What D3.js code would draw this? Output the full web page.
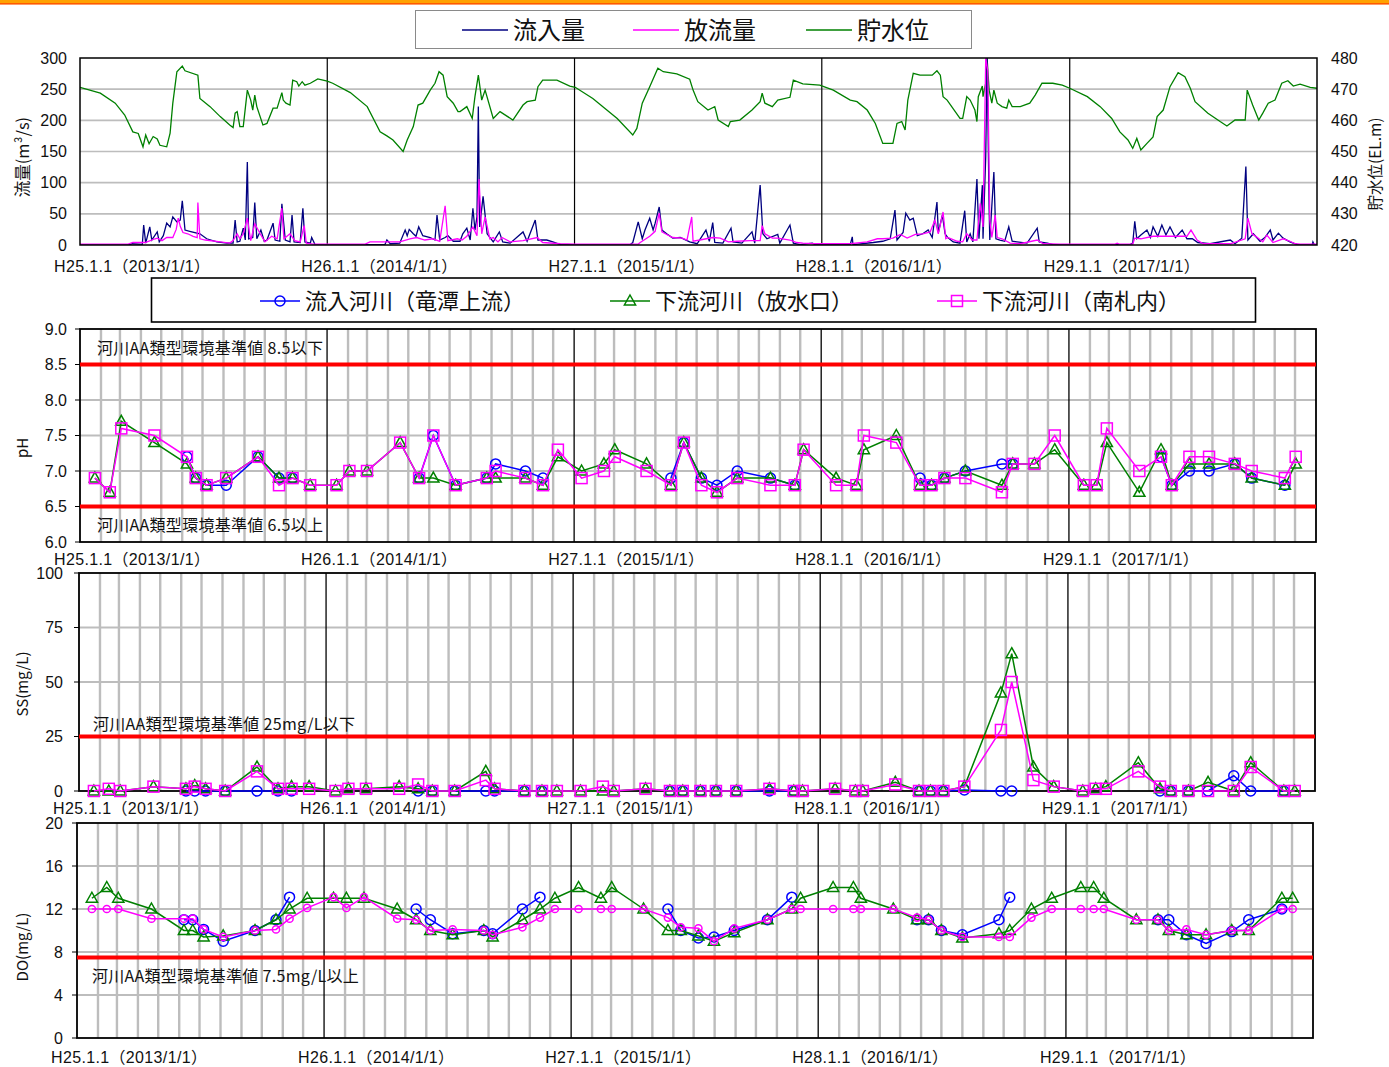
<!DOCTYPE html>
<html>
<head>
<meta charset="utf-8">
<script src="https://cdn.jsdelivr.net/npm/d3@7"></script>
<style>
  body { margin: 0; background: #fff; }
  svg { display: block; font-family: "Noto Sans CJK JP", "Noto Sans", sans-serif; }
  .num { font-family: "Liberation Sans", Arial, "Noto Sans CJK JP", sans-serif; }
</style>
</head>
<body>
<svg id="chart" width="1389" height="1067"></svg>
<script>
// ---------------- data ----------------
// Daily dam record: [days from 2013-01-01, value]
const inflow = [[0,0.5],[74,0.5],[77,2],[92,1],[94,32],[97,3],[103,29],[106,8],[114,21],[117,5],[123,15],[128,35],[133,29],[137,45],[143,37],[148,40],[151,71],[155,24],[162,22],[177,18],[187,10],[202,5],[217,3],[226,3],[229,40],[232,5],[236,6],[241,27],[244,8],[247,133],[249,10],[255,12],[258,68],[261,10],[267,24],[272,6],[276,8],[285,35],[288,8],[295,6],[298,66],[303,8],[310,5],[313,48],[316,5],[325,4],[329,59],[332,5],[340,3],[342,12],[347,0.5],[450,0.5],[453,8],[458,2],[472,3],[480,24],[483,15],[486,25],[492,18],[496,14],[500,29],[506,15],[517,12],[524,8],[527,48],[531,8],[539,12],[543,15],[551,6],[561,6],[565,18],[571,27],[576,8],[580,59],[583,24],[586,45],[588,222],[590,29],[595,78],[601,18],[610,5],[619,21],[624,5],[635,3],[654,21],[660,6],[672,40],[676,8],[689,8],[698,5],[709,0.5],[812,0.5],[816,4],[824,37],[830,10],[834,24],[841,43],[846,24],[849,35],[855,61],[859,24],[866,18],[875,11],[886,12],[900,5],[911,2],[924,24],[929,6],[934,36],[937,4],[949,3],[961,27],[964,5],[977,3],[992,21],[996,3],[1004,96],[1008,18],[1014,10],[1030,17],[1033,3],[1048,32],[1053,3],[1063,0.5],[1081,3],[1085,0.5],[1137,0.5],[1140,13],[1141,0.5],[1171,4],[1185,6],[1196,10],[1203,56],[1206,8],[1215,20],[1219,51],[1225,40],[1230,43],[1236,15],[1244,18],[1252,24],[1258,12],[1265,69],[1267,20],[1273,48],[1277,18],[1281,12],[1289,5],[1299,3],[1306,55],[1309,5],[1314,18],[1318,5],[1324,106],[1327,10],[1332,96],[1333,10],[1337,142],[1339,300],[1342,60],[1343,8],[1349,117],[1352,10],[1358,8],[1365,6],[1371,29],[1376,6],[1383,5],[1398,3],[1413,27],[1416,5],[1428,3],[1436,0.5],[1550,0.5],[1554,3],[1557,38],[1560,10],[1566,16],[1575,24],[1580,12],[1584,29],[1591,14],[1597,32],[1603,16],[1609,29],[1617,12],[1627,24],[1634,10],[1642,10],[1650,4],[1668,2],[1698,8],[1705,2],[1715,11],[1721,126],[1724,8],[1732,18],[1742,6],[1749,12],[1757,24],[1761,8],[1769,19],[1776,11],[1786,5],[1797,0.5],[1819,0.5],[1820,5],[1822,0.5],[1826,0.5]];

const outflow = [[0,1.5],[71,1.5],[78,4],[96,4],[99,5],[111,10],[114,11],[121,7],[128,12],[137,12],[142,25],[145,43],[148,30],[152,20],[159,18],[167,14],[173,12],[174,68],[177,10],[185,8],[207,5],[221,3],[226,7],[232,18],[236,10],[241,18],[247,43],[252,7],[258,34],[266,18],[273,5],[283,14],[291,10],[298,59],[301,10],[310,18],[317,7],[325,5],[331,31],[334,3],[344,1.5],[421,1.5],[428,5],[465,5],[472,5],[487,10],[497,12],[509,8],[521,10],[531,6],[539,63],[543,7],[557,10],[564,8],[571,14],[580,29],[586,15],[589,106],[593,18],[598,45],[605,10],[610,12],[617,5],[623,12],[635,5],[654,7],[675,12],[683,4],[709,2],[731,1.5],[824,1.5],[827,4],[841,14],[849,22],[855,51],[859,21],[864,18],[875,12],[889,11],[896,8],[903,45],[905,6],[915,8],[934,12],[945,11],[957,5],[970,6],[989,7],[1004,7],[1007,31],[1011,18],[1022,11],[1030,11],[1048,8],[1058,4],[1067,3],[1085,2],[1137,2],[1162,5],[1177,10],[1185,10],[1200,11],[1211,17],[1221,11],[1233,17],[1244,18],[1255,21],[1262,40],[1267,18],[1274,53],[1278,10],[1281,12],[1295,6],[1303,5],[1309,18],[1317,8],[1324,8],[1329,67],[1333,29],[1337,300],[1340,280],[1343,40],[1346,12],[1351,48],[1354,12],[1361,10],[1373,3],[1388,2],[1413,8],[1422,2],[1447,1.5],[1528,1.5],[1531,3],[1534,1.5],[1554,1.5],[1557,11],[1566,10],[1584,14],[1634,14],[1640,24],[1649,8],[1658,2],[1698,2],[1720,10],[1724,43],[1730,18],[1738,12],[1746,5],[1752,16],[1761,4],[1776,10],[1786,6],[1794,2],[1801,1.5],[1826,1.5]];

const waterLevel = [[0,470.6],[30,468.7],[52,465.5],[66,461.7],[78,456.3],[86,455.8],[93,451.5],[97,455.3],[102,452.5],[108,454.8],[114,454],[118,452],[128,451.5],[133,455.9],[137,465.5],[143,475.6],[151,477.4],[155,475.9],[174,474.5],[177,467],[192,464.4],[207,461.2],[221,458.5],[226,457.7],[229,462.3],[232,462.8],[236,458],[241,458],[247,469.7],[252,466.5],[255,463.3],[258,468.1],[261,464.4],[270,458.5],[276,459],[285,463.9],[291,463.9],[298,468.9],[300,466.5],[304,465.5],[310,464.9],[314,472.9],[320,472.4],[323,471],[328,472.4],[332,471.3],[340,471.9],[351,473.3],[365,472.6],[373,471.9],[399,468.9],[424,464.4],[443,456.3],[453,455],[462,453.7],[477,450],[483,453.7],[492,458],[499,464.9],[506,465.5],[517,469.7],[524,471.9],[530,475.6],[536,474.5],[542,467.6],[551,465.5],[558,462.8],[561,462.8],[571,464.4],[579,460.6],[583,467.6],[588,474.5],[593,466.5],[598,469.7],[610,460.6],[620,462.8],[639,460.1],[654,464.9],[660,466],[672,466.5],[676,470.8],[683,472.9],[704,472.9],[723,471],[731,470.6],[757,467],[793,460.6],[816,455.3],[822,457.4],[830,465.5],[841,470.8],[853,476.7],[861,475.6],[881,474.9],[900,473.2],[905,469.7],[912,466],[927,463.3],[937,464.4],[942,460.1],[957,458],[960,459.6],[974,460.1],[992,463.3],[1004,466],[1007,468.7],[1011,465.5],[1022,464.4],[1030,466.5],[1048,467.4],[1053,472.9],[1067,471.7],[1092,471.3],[1112,469.7],[1137,466.5],[1147,466],[1162,463.3],[1174,459],[1185,452.6],[1200,452.6],[1206,459],[1213,459.6],[1218,456.9],[1222,466.5],[1230,475.1],[1240,474.5],[1258,474.5],[1265,475.9],[1270,474.5],[1274,467.6],[1280,466.5],[1299,460.6],[1303,460.6],[1309,467.6],[1314,466.5],[1321,463.3],[1324,459.6],[1326,467.6],[1332,471],[1333,467.6],[1337,471.9],[1339,480],[1342,469.7],[1346,465.5],[1349,469.7],[1354,465.5],[1361,464.4],[1368,463.9],[1371,466.5],[1376,464.4],[1388,464.4],[1402,465.5],[1410,468.1],[1420,471.9],[1436,471.9],[1450,471.3],[1461,470.3],[1487,467.6],[1506,464.4],[1523,460.6],[1535,456.3],[1547,453.7],[1554,451],[1560,454.2],[1566,450.5],[1575,452.6],[1584,454.7],[1590,461.2],[1599,463.3],[1609,470.8],[1621,475.3],[1631,474],[1639,470.3],[1646,466],[1665,462.3],[1683,459.6],[1693,458.2],[1705,460.1],[1720,460.1],[1723,469.7],[1731,464.9],[1740,460.1],[1746,462.3],[1754,465.5],[1764,466.5],[1774,471.9],[1783,472.7],[1791,471],[1801,471.6],[1816,470.6],[1826,470.3]];

// Water-quality sampling dates (shared by all three sites)
const sampleDates = [
  "2013-01-23","2013-02-14","2013-03-03","2013-04-21","2013-06-08","2013-06-21","2013-07-07","2013-08-05","2013-09-21","2013-10-22","2013-11-11","2013-12-07",
  "2014-01-15","2014-02-03","2014-03-01","2014-04-19","2014-05-17","2014-06-07","2014-07-10","2014-08-25","2014-09-07","2014-10-21","2014-11-16","2014-12-08",
  "2015-01-12","2015-02-14","2015-03-02","2015-04-18","2015-05-24","2015-06-12","2015-07-08","2015-07-31","2015-08-30","2015-10-18","2015-11-23","2015-12-06",
  "2016-01-23","2016-02-22","2016-03-04","2016-04-21","2016-05-26","2016-06-12","2016-07-01","2016-08-01","2016-09-24","2016-10-10","2016-11-11","2016-12-11",
  "2017-01-23","2017-02-11","2017-02-26","2017-04-15","2017-05-17","2017-06-02","2017-06-28","2017-07-27","2017-09-03","2017-09-28","2017-11-16","2017-12-02"
];
const _ = null;

// pH
const phUpstream = [_,_,_,_,7.2,6.9,6.8,6.8,7.2,6.9,6.9,_, _,_,_,_,6.9,7.5,6.8,6.9,7.1,7.0,6.9,_, _,_,_,_,6.9,7.4,6.9,6.8,7.0,6.9,6.8,_, _,_,_,_,6.9,6.8,6.9,7.0,7.1,7.1,_,_, _,_,_,_,7.2,6.8,7.0,7.0,7.1,6.9,6.8,_];
const phOutlet   = [6.9,6.7,7.7,7.4,7.1,6.9,6.8,6.9,7.2,6.9,6.9,6.8, 6.8,7.0,7.0,7.4,6.9,6.9,6.8,6.9,6.9,6.9,6.8,7.2, 7.0,7.1,7.3,7.1,6.8,7.4,6.9,6.7,6.9,6.9,6.8,7.3, 6.9,6.8,7.3,7.5,6.8,6.8,6.9,7.0,6.8,7.1,7.1,7.3, 6.8,6.8,7.4,6.7,7.3,6.8,7.1,7.1,7.1,6.9,6.8,7.1];
const phMinami   = [6.9,6.7,7.6,7.5,7.2,6.9,6.8,6.9,7.2,6.8,6.9,6.8, 6.8,7.0,7.0,7.4,6.9,7.5,6.8,6.9,7.0,6.9,6.8,7.3, 6.9,7.0,7.2,7.0,6.8,7.4,6.8,6.7,6.9,6.8,6.8,7.3, 6.8,6.8,7.5,7.4,6.8,6.8,6.9,6.9,6.7,7.1,7.1,7.5, 6.8,6.8,7.6,7.0,7.2,6.8,7.2,7.2,7.1,7.0,6.9,7.2];

// SS (mg/L)
const ssUpstream = [_,_,_,_,0,0,0,0,0,0,0,_, _,_,_,_,0,0,0,0,0,0,0,_, _,_,_,_,0,0,0,0,0,0,0,_, _,_,_,_,0,0,0,0.5,0,0,_,_, _,_,_,_,0,0,0,0,7,0,0,_];
const ssOutlet   = [0,0,0,2,1,2.5,1,0,11,1,2,2, 0,1,1,2,1,0,0,9,1,0,0,0, 0,0,0,1,0,0,0,0,0,1,0,0, 1,0,0,4,0,0,0,2,45,63,11,2, 0,1,2,13,1,0,0,4,0,13,0,0];
const ssMinami   = [0,1,0,2,1,2,1,0,9,1,1,1, 0,1,1,1,3,0,0,5,1,0,0,0, 0,2,0,1,0,0,0,0,0,1,0,0, 1,0,0,3,0,0,0,2,28,50,5,2, 0,1,1,9,2,0,0,0,0,11,0,0];

// DO (mg/L)
const doUpstream = [_,_,_,_,11,11,10.1,9,10,11,13.1,_, _,_,_,_,12,11,9.7,10,9.7,12,13.1,_, _,_,_,_,12,10,9.3,9.4,10,11,13.1,_, _,_,_,_,11,11,10,9.6,11,13.1,_,_, _,_,_,_,11,11,9.6,8.8,9.9,11,12,_];
const doOutlet   = [13,14,13,12,10,10,9.4,9.5,10,11,12,13, 13,13,13,12,11,10,9.6,10,9.4,11,12,13, 14,13,14,12,10,10,9.5,9,9.8,11,12,13, 14,14,13,12,11,11,10,9.3,9.7,10,12,13, 14,14,13,11,11,10,9.6,9.6,10,10,13,13];
const doMinami   = [12,12,12,11.1,11.1,11.1,10.1,9.4,10,10.1,11.1,12.1, 13.1,12.1,13.1,11.1,11,10,10.1,10,9.6,10.3,11.2,12, 12,12,12,12,11.2,10.3,10.2,9,10.2,11,12,12, 12,12,12,12,11.2,11,10,9.4,9.4,9.4,11.2,12, 12,12,12,11,11,10,10.1,9.6,10,10,12,12];

// Axis ticks and labels
const yearLabels = ["H25.1.1（2013/1/1）","H26.1.1（2014/1/1）","H27.1.1（2015/1/1）","H28.1.1（2016/1/1）","H29.1.1（2017/1/1）"];
const flowTicks = [0,50,100,150,200,250,300];
const levelTicks = [420,430,440,450,460,470,480];
const phTicks = [6.0,6.5,7.0,7.5,8.0,8.5,9.0];
const ssTicks = [0,25,50,75,100];
const doTicks = [0,4,8,12,16,20];

// ---------------- drawing ----------------
const svg = d3.select("#chart");
const t0 = new Date(2013, 0, 1), t1 = new Date(2018, 0, 1);
const years = d3.timeYear.range(t0, t1);
const parse = d3.timeParse("%Y-%m-%d");
const dates = sampleDates.map(parse);
const dayToDate = d => d3.timeDay.offset(t0, d);
const GRID = "#bdbdbd";
const NUM_FONT = 16;

// page header band
svg.append("rect").attr("x", 0).attr("y", 0).attr("width", 1389).attr("height", 3).attr("fill", "#ffa200");
svg.append("rect").attr("x", 0).attr("y", 3).attr("width", 1389).attr("height", 1.6).attr("fill", "#ff5a00");

function yearTickLabels(g, x, yPos) {
  g.selectAll(null).data(years).enter().append("text")
    .attr("class", "num")
    .attr("x", d => x(d) - 26).attr("y", yPos).attr("dy", "0.35em")
    .attr("font-size", 16).attr("letter-spacing", 0.35).attr("fill", "#111")
    .text((d, i) => yearLabels[i]);
}

function rotatedLabel(text, x, y, size) {
  svg.append("text").attr("transform", `translate(${x},${y}) rotate(-90)`)
    .attr("text-anchor", "middle").attr("dy", "0.35em")
    .attr("font-size", size || 15).attr("fill", "#111").text(text);
}

// ---- flow / reservoir level chart ----
(function () {
  const L = 80, R = 1317, T = 58, B = 245;
  const g = svg.append("g");
  const x = d3.scaleTime().domain([t0, t1]).range([L, R]);
  const yL = d3.scaleLinear().domain([0, 300]).range([B, T]);
  const yR = d3.scaleLinear().domain([420, 480]).range([B, T]);

  g.append("clipPath").attr("id", "flowClip").append("rect")
    .attr("x", L).attr("y", T - 1).attr("width", R - L).attr("height", B - T + 1);

  g.selectAll(null).data(flowTicks.slice(1, -1)).enter().append("line")
    .attr("x1", L).attr("x2", R).attr("y1", d => yL(d)).attr("y2", d => yL(d))
    .attr("stroke", GRID).attr("stroke-width", 1.6);
  g.selectAll(null).data(years.slice(1)).enter().append("line")
    .attr("x1", d => x(d)).attr("x2", d => x(d)).attr("y1", T).attr("y2", B)
    .attr("stroke", "#000").attr("stroke-width", 1.2);

  const plot = g.append("g").attr("clip-path", "url(#flowClip)");
  const lvl = d3.line().x(d => x(dayToDate(d[0]))).y(d => yR(d[1]));
  const flw = d3.line().x(d => x(dayToDate(d[0]))).y(d => yL(d[1]));
  plot.append("path").datum(waterLevel).attr("d", lvl).attr("fill", "none").attr("stroke", "#008000").attr("stroke-width", 1.3);
  plot.append("path").datum(inflow).attr("d", flw).attr("fill", "none").attr("stroke", "#000080").attr("stroke-width", 1.3);
  plot.append("path").datum(outflow).attr("d", flw).attr("fill", "none").attr("stroke", "#ff00ff").attr("stroke-width", 1.3);

  g.append("rect").attr("x", L).attr("y", T).attr("width", R - L).attr("height", B - T)
    .attr("fill", "none").attr("stroke", "#000").attr("stroke-width", 1.5);

  g.selectAll(null).data(flowTicks).enter().append("text").attr("class", "num")
    .attr("x", L - 13).attr("y", d => yL(d)).attr("dy", "0.35em").attr("text-anchor", "end")
    .attr("font-size", NUM_FONT).attr("fill", "#111").text(d => d);
  g.selectAll(null).data(levelTicks).enter().append("text").attr("class", "num")
    .attr("x", R + 14).attr("y", d => yR(d)).attr("dy", "0.35em").attr("text-anchor", "start")
    .attr("font-size", NUM_FONT).attr("fill", "#111").text(d => d);

  yearTickLabels(g, x, 266);
  rotatedLabel("流量(m³/s)", 23, 157, 16.5);
  rotatedLabel("貯水位(EL.m)", 1376, 164, 15.5);

  // legend
  const lg = svg.append("g");
  lg.append("rect").attr("x", 415.5).attr("y", 10.5).attr("width", 556).attr("height", 38)
    .attr("fill", "#fff").attr("stroke", "#8a8a8a").attr("stroke-width", 1);
  const items = [
    { label: "流入量", color: "#000080", x: 462 },
    { label: "放流量", color: "#ff00ff", x: 633 },
    { label: "貯水位", color: "#008000", x: 806 }
  ];
  items.forEach(it => {
    lg.append("line").attr("x1", it.x).attr("x2", it.x + 46).attr("y1", 30).attr("y2", 30)
      .attr("stroke", it.color).attr("stroke-width", 1.6);
    lg.append("text").attr("x", it.x + 51).attr("y", 31).attr("dy", "0.35em")
      .attr("font-size", 24).attr("fill", "#111").text(it.label);
  });
})();

// ---- markers ----
function drawMarker(g, type, cx, cy, color) {
  if (type === "circle") {
    g.append("circle").attr("cx", cx).attr("cy", cy).attr("r", 5)
      .attr("fill", "none").attr("stroke", color).attr("stroke-width", 1.5);
  } else if (type === "dot") {
    g.append("circle").attr("cx", cx).attr("cy", cy).attr("r", 3.6)
      .attr("fill", "none").attr("stroke", color).attr("stroke-width", 1.5);
  } else if (type === "triangle") {
    g.append("path").attr("d", `M${cx},${cy - 6}L${cx + 5.6},${cy + 4}L${cx - 5.6},${cy + 4}Z`)
      .attr("fill", "none").attr("stroke", color).attr("stroke-width", 1.5);
  } else if (type === "square") {
    g.append("rect").attr("x", cx - 5.5).attr("y", cy - 5.5).attr("width", 11).attr("height", 11)
      .attr("fill", "none").attr("stroke", color).attr("stroke-width", 1.5);
  }
}

// ---- water-quality chart ----
function qualityChart(cfg) {
  const { L, R, T, B } = cfg;
  const g = svg.append("g");
  const x = d3.scaleTime().domain([t0, t1]).range([L, R]);
  const y = d3.scaleLinear().domain([cfg.ticks[0], cfg.ticks[cfg.ticks.length - 1]]).range([B, T]);

  const months = d3.timeMonth.range(t0, t1).filter(d => d.getMonth() !== 0);
  g.selectAll(null).data(months).enter().append("line")
    .attr("x1", d => x(d)).attr("x2", d => x(d)).attr("y1", T).attr("y2", B)
    .attr("stroke", GRID).attr("stroke-width", 2.4);
  g.selectAll(null).data(cfg.ticks.slice(1, -1)).enter().append("line")
    .attr("x1", L).attr("x2", R).attr("y1", d => y(d)).attr("y2", d => y(d))
    .attr("stroke", GRID).attr("stroke-width", 2);
  g.selectAll(null).data(years.slice(1)).enter().append("line")
    .attr("x1", d => x(d)).attr("x2", d => x(d)).attr("y1", T).attr("y2", B)
    .attr("stroke", "#000").attr("stroke-width", 1.3);

  g.append("rect").attr("x", L).attr("y", T).attr("width", R - L).attr("height", B - T)
    .attr("fill", "none").attr("stroke", "#000").attr("stroke-width", 1.8);

  g.selectAll(null).data(cfg.ticks).enter().append("line")
    .attr("x1", L - 5).attr("x2", L).attr("y1", d => y(d)).attr("y2", d => y(d))
    .attr("stroke", "#000").attr("stroke-width", 1);
  g.selectAll(null).data(cfg.ticks).enter().append("text").attr("class", "num")
    .attr("x", L - cfg.labelGap).attr("y", d => y(d)).attr("dy", "0.35em").attr("text-anchor", "end")
    .attr("font-size", NUM_FONT).attr("fill", "#111").text(cfg.fmt);

  // environmental standard lines
  cfg.limits.forEach(lim => {
    g.append("line").attr("x1", L).attr("x2", R).attr("y1", y(lim.value)).attr("y2", y(lim.value))
      .attr("stroke", "#ff0000").attr("stroke-width", 4);
    g.append("text").attr("x", L + cfg.noteDx).attr("y", y(lim.value) + lim.dy).attr("dy", "0.35em")
      .attr("font-size", 16).attr("letter-spacing", 0.3).attr("fill", "#111").text(lim.text);
  });

  cfg.series.forEach(s => {
    const pts = dates.map((d, i) => ({ d, v: s.values[i] }));
    const line = d3.line().defined(p => p.v != null).x(p => x(p.d)).y(p => y(p.v));
    g.append("path").datum(pts).attr("d", line).attr("fill", "none")
      .attr("stroke", s.color).attr("stroke-width", 1.5);
    const mg = g.append("g");
    pts.filter(p => p.v != null).forEach(p => drawMarker(mg, s.marker, x(p.d), y(p.v), s.color));
  });

  yearTickLabels(g, x, cfg.xLabelY);
  rotatedLabel(cfg.title, 23, cfg.titleY);
}

const BLUE = "#0000ff", GREEN = "#008000", MAG = "#ff00ff";

qualityChart({
  L: 80, R: 1316, T: 329, B: 542, ticks: phTicks, fmt: d => d.toFixed(1), labelGap: 13,
  limits: [
    { value: 8.5, text: "河川AA類型環境基準値 8.5以下", dy: -16 },
    { value: 6.5, text: "河川AA類型環境基準値 6.5以上", dy: 19 }
  ], noteDx: 17,
  series: [
    { values: phUpstream, color: BLUE, marker: "circle" },
    { values: phOutlet, color: GREEN, marker: "triangle" },
    { values: phMinami, color: MAG, marker: "square" }
  ],
  xLabelY: 559, title: "pH", titleY: 448
});

qualityChart({
  L: 79, R: 1315, T: 573, B: 791, ticks: ssTicks, fmt: d => d, labelGap: 16,
  limits: [{ value: 25, text: "河川AA類型環境基準値 25mg/L以下", dy: -12 }], noteDx: 14,
  series: [
    { values: ssUpstream, color: BLUE, marker: "circle" },
    { values: ssOutlet, color: GREEN, marker: "triangle" },
    { values: ssMinami, color: MAG, marker: "square" }
  ],
  xLabelY: 808, title: "SS(mg/L)", titleY: 684
});

qualityChart({
  L: 77, R: 1313, T: 823, B: 1038, ticks: doTicks, fmt: d => d, labelGap: 14,
  limits: [{ value: 7.5, text: "河川AA類型環境基準値 7.5mg/L以上", dy: 19 }], noteDx: 15,
  series: [
    { values: doUpstream, color: BLUE, marker: "circle" },
    { values: doOutlet, color: GREEN, marker: "triangle" },
    { values: doMinami, color: MAG, marker: "dot" }
  ],
  xLabelY: 1057, title: "DO(mg/L)", titleY: 947
});

// site legend
(function () {
  const lg = svg.append("g");
  lg.append("rect").attr("x", 151.5).attr("y", 278).attr("width", 1104).attr("height", 44)
    .attr("fill", "#fff").attr("stroke", "#000").attr("stroke-width", 1.6);
  const items = [
    { label: "流入河川（竜潭上流）", color: BLUE, marker: "circle", x: 260 },
    { label: "下流河川（放水口）", color: GREEN, marker: "triangle", x: 610 },
    { label: "下流河川（南札内）", color: MAG, marker: "square", x: 937 }
  ];
  items.forEach(it => {
    lg.append("line").attr("x1", it.x).attr("x2", it.x + 40).attr("y1", 301).attr("y2", 301)
      .attr("stroke", it.color).attr("stroke-width", 1.5);
    drawMarker(lg, it.marker, it.x + 20, 301, it.color);
    lg.append("text").attr("x", it.x + 45).attr("y", 301).attr("dy", "0.35em")
      .attr("font-size", 22).attr("fill", "#111").text(it.label);
  });
})();
</script>
</body>
</html>
